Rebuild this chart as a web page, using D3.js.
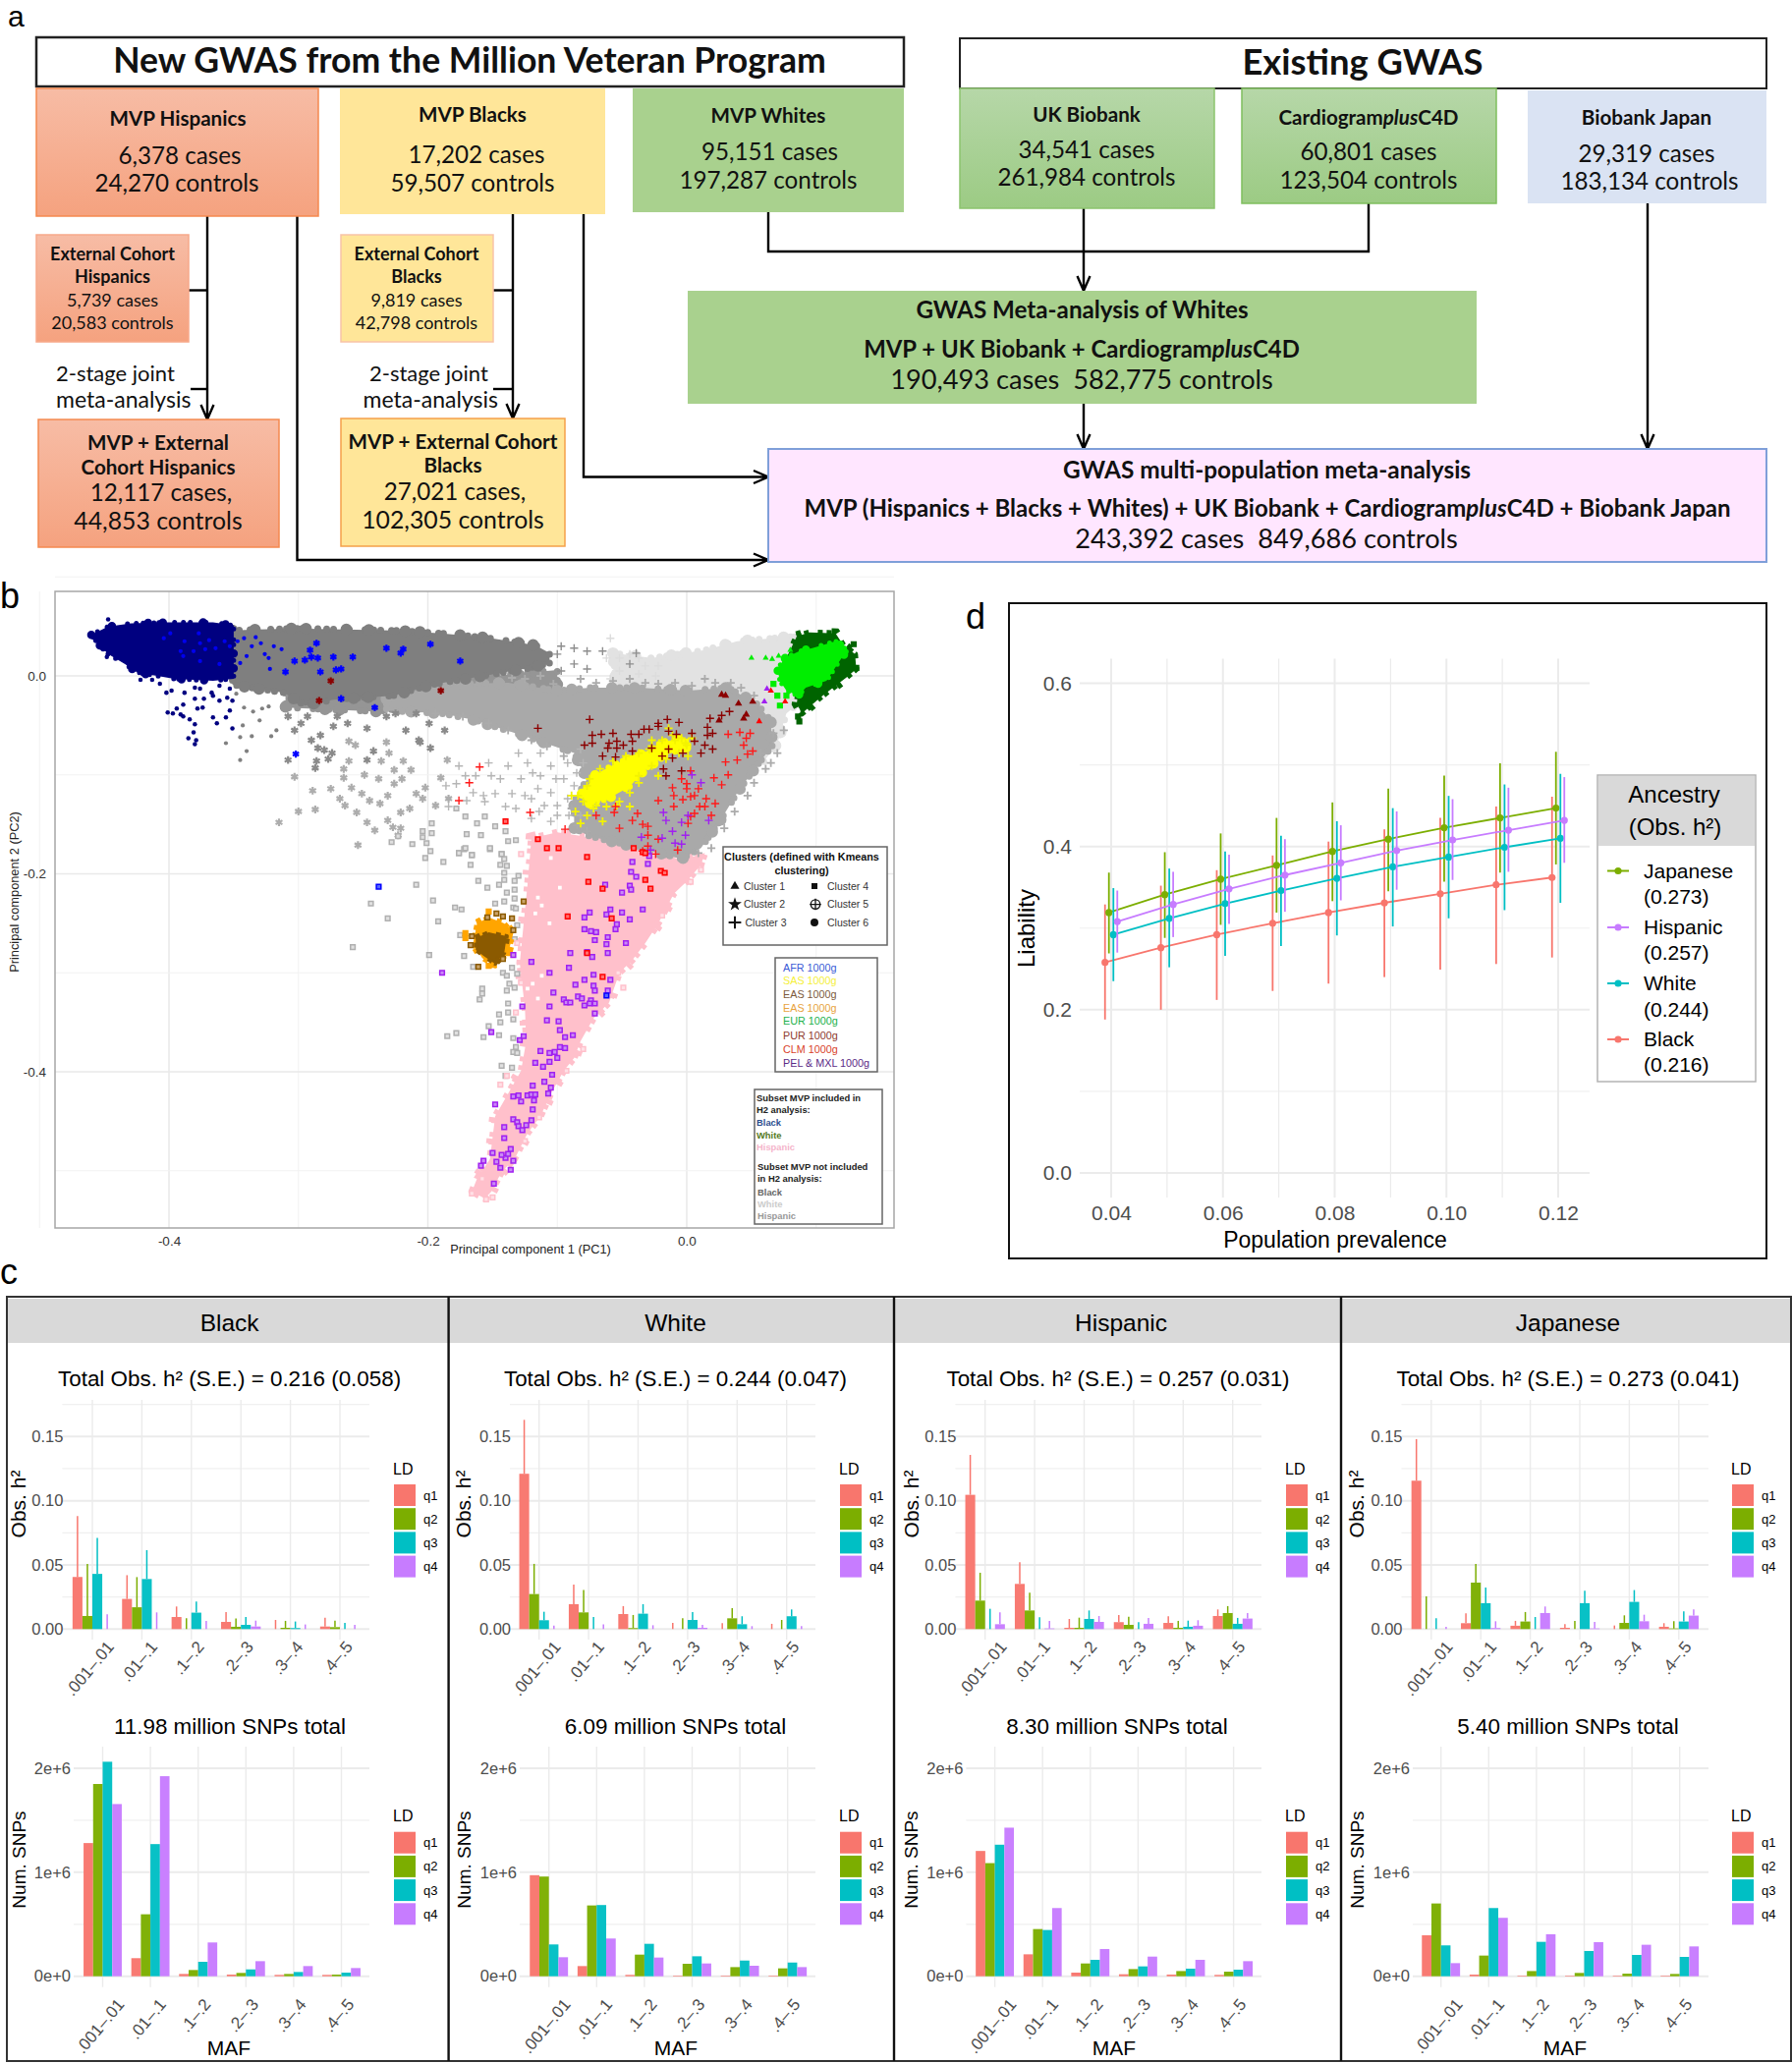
<!DOCTYPE html>
<html><head><meta charset="utf-8">
<script src="https://cdn.jsdelivr.net/npm/d3@7/dist/d3.min.js"></script>
<style>html,body{margin:0;padding:0;background:#fff}svg{display:block}text{font-family:"Liberation Sans",Arial,sans-serif}.fl text,text.fl{font-family:Lato,"Open Sans",sans-serif}</style>
</head><body><svg id="c" width="1824" height="2100" xmlns="http://www.w3.org/2000/svg"></svg>
<script>
/* ---------- DATA : panel a ---------- */
const cohortNames=["MVP Hispanics","MVP Blacks","MVP Whites","UK Biobank","Biobank Japan"];
const cohortCases=[6378,17202,95151,34541,60801,29319];
const cohortControls=[24270,59507,197287,261984,123504,183134];
const externalCases=[5739,9819];
const externalControls=[20583,42798];
const jointCases=[12117,27021];
const jointControls=[44853,102305];
const metaCases=[190493,243392];
const metaControls=[582775,849686];
/* ---------- DATA : panel b, PC1/PC2 ---------- */
const cloudLightGrey=[[-.057,.023],[-.027,.018],[.014,.026],[.039,.035],[.084,.040],[.086,-.028],[.077,-.038],[.070,-.068],[.057,-.091],[.039,-.065],[.019,-.03],[-.027,-.02],[-.054,-.015]];
const cloudMidGrey=[[-.232,-.022],[-.189,-.008],[-.138,-.007],[-.100,-.015],[-.075,-.012],[-.037,-.012],[.001,-.015],[.032,-.012],[.054,-.028],[.065,-.045],[.066,-.071],[.054,-.091],[.039,-.118],[.027,-.144],[.011,-.174],[-.004,-.185],[-.022,-.179],[-.052,-.169],[-.075,-.162],[-.087,-.154],[-.087,-.127],[-.077,-.104],[-.087,-.078],[-.125,-.061],[-.163,-.045],[-.189,-.038],[-.232,-.035]];
const cloudFringe=[[-.31,-.012],[-.19,-.005],[-.10,.006],[-.10,-.018],[-.19,-.028],[-.24,-.036],[-.31,-.032]];
const cloudDarkGrey=[[-.351,.046],[-.303,.048],[-.227,.046],[-.189,.043],[-.151,.038],[-.117,.031],[-.106,.023],[-.106,.013],[-.121,.008],[-.166,-.002],[-.197,-.009],[-.227,-.020],[-.273,-.024],[-.295,-.03],[-.311,-.017],[-.351,-.009]];
const cloudNavy=[[-.460,.0415],[-.447,.050],[-.429,.053],[-.402,.054],[-.366,.054],[-.350,.051],[-.350,-.003],[-.366,-.005],[-.396,-.003],[-.409,0],[-.424,.003],[-.434,.012],[-.447,.022],[-.453,.030]];
const cloudPink=[[-.120,-.164],[-.100,-.158],[-.075,-.163],[-.052,-.169],[-.022,-.179],[-.004,-.186],[.014,-.179],[.011,-.191],[-.001,-.209],[-.010,-.220],[-.022,-.250],[-.032,-.270],[-.042,-.287],[-.052,-.300],[-.060,-.330],[-.072,-.346],[-.082,-.369],[-.087,-.386],[-.095,-.399],[-.105,-.422],[-.113,-.445],[-.123,-.462],[-.133,-.488],[-.143,-.501],[-.151,-.521],[-.156,-.528],[-.166,-.521],[-.162,-.508],[-.152,-.488],[-.148,-.445],[-.138,-.422],[-.128,-.399],[-.124,-.369],[-.125,-.336],[-.129,-.290],[-.125,-.237],[-.123,-.211]];
const cloudOrange=[[-.162,-.250],[-.153,-.244],[-.141,-.250],[-.134,-.260],[-.138,-.280],[-.148,-.293],[-.158,-.285],[-.165,-.270]];
const cloudBrown=[[-.163,-.265],[-.153,-.259],[-.139,-.263],[-.141,-.280],[-.148,-.291],[-.157,-.283],[-.163,-.277]];
const cloudDarkGreen=[[.085,.040],[.095,.044],[.115,.043],[.121,.031],[.130,.022],[.131,.007],[.123,-.002],[.113,-.012],[.103,-.022],[.089,-.038],[.085,-.028],[.087,-.008],[.077,.018]];
const cloudGreen=[[.076,.018],[.087,.025],[.097,.028],[.115,.035],[.124,.026],[.118,.015],[.108,-.005],[.092,-.012],[.086,-.020],[.077,-.015],[.072,-.005],[.070,.007]];
const cloudYellow=[[-.081,-.119],[-.070,-.099],[-.054,-.088],[-.036,-.080],[-.018,-.066],[.002,-.063],[.001,-.072],[-.014,-.079],[-.032,-.094],[-.044,-.112],[-.062,-.125],[-.075,-.129]];
const navyPoints=[[-.447,.057],[-.460,.041],[-.457,.036],[-.452,.028],[-.448,.019],[-.423,.003],[-.422,-.004],[-.413,-.004],[-.407,-.008],[-.402,-.017],[-.398,-.015],[-.388,-.017],[-.380,-.012],[-.376,-.013],[-.367,-.017],[-.361,-.010],[-.353,-.013],[-.380,-.023],[-.373,-.023],[-.366,-.020],[-.361,-.025],[-.355,-.022],[-.351,-.025],[-.389,-.029],[-.394,-.033],[-.401,-.037],[-.397,-.038],[-.391,-.039],[-.389,-.041],[-.384,-.044],[-.380,-.049],[-.378,-.033],[-.374,-.032],[-.366,-.042],[-.363,-.048],[-.356,-.042],[-.353,-.035],[-.351,-.053],[-.381,-.057],[-.385,-.063],[-.379,-.065],[-.380,-.069]];
const afrDots=[[-.404,.038],[-.399,.043],[-.391,.025],[-.388,.035],[-.381,.025],[-.377,.043],[-.376,.033],[-.372,.027],[-.369,.036],[-.364,.028],[-.357,.035],[-.353,.030],[-.361,.012],[-.376,.015],[-.389,.020],[-.347,.035],[-.342,.038],[-.336,.030],[-.333,.039],[-.329,.033],[-.326,.022],[-.323,.018],[-.322,.007],[-.340,.020],[-.345,.013],[-.319,.030],[-.313,.027]];
const afrStars=[[-.303,.015],[-.295,.016],[-.291,.026],[-.286,.033],[-.290,.019],[-.285,.018],[-.273,.019],[-.258,.019],[-.232,.028],[-.221,.023],[-.219,.027],[-.198,.032],[-.310,.004],[-.283,.004],[-.271,.006],[-.267,.007],[-.267,-.023],[-.241,-.032],[-.302,-.079],[-.175,.015]];
const afrSquares=[[-.238,-.213],[-.062,-.323]];
const purStars=[[-.275,-.005],[-.284,-.025],[-.190,-.015]];
const greySmall=[[-.348,-.018],[-.342,-.032],[-.335,-.036],[-.328,-.033],[-.323,-.031],[-.343,-.050],[-.336,-.061],[-.345,-.062],[-.321,-.061],[-.340,-.076],[-.345,-.085],[-.356,-.068],[-.330,-.045],[-.317,-.055]];
const greyStarsDark=[[-.308,-.085],[-.286,-.086],[-.287,-.093],[-.277,-.084],[-.274,-.078],[-.283,-.060],[-.290,-.065],[-.285,-.073],[-.280,-.075],[-.298,-.048],[-.303,-.055],[-.308,-.041],[-.293,-.041],[-.273,-.051],[-.262,-.048],[-.247,-.053],[-.232,-.041],[-.217,-.055],[-.207,-.065],[-.199,-.048],[-.187,-.055],[-.270,-.041],[-.225,-.038],[-.209,-.038],[-.242,-.076],[-.206,-.067],[-.198,-.073],[-.247,-.085]];
const greyStarsLight=[[-.303,-.102],[-.289,-.116],[-.275,-.114],[-.300,-.137],[-.287,-.135],[-.315,-.148],[-.268,-.124],[-.264,-.131],[-.255,-.138],[-.247,-.148],[-.241,-.156],[-.227,-.153],[-.221,-.154],[-.254,-.171],[-.223,-.161],[-.231,-.146],[-.237,-.129],[-.251,-.119],[-.259,-.113],[-.265,-.103],[-.265,-.094],[-.261,-.086],[-.256,-.070],[-.261,-.066],[-.232,-.067],[-.230,-.078],[-.219,-.086],[-.236,-.086],[-.226,-.095],[-.213,-.095],[-.249,-.100],[-.238,-.104],[-.226,-.109],[-.220,-.104],[-.209,-.119],[-.202,-.113],[-.204,-.124],[-.221,-.138],[-.214,-.134],[-.231,-.121],[-.245,-.126],[-.194,-.131],[-.190,-.103],[-.185,-.085],[-.184,-.124]];
const greyPlus=[[-.176,-.091],[-.163,-.101],[-.153,-.088],[-.144,-.104],[-.130,-.078],[-.123,-.088],[-.113,-.078],[-.105,-.091],[-.092,-.088],[-.082,-.074],[-.186,-.111],[-.178,-.109],[-.165,-.118],[-.157,-.121],[-.148,-.119],[-.135,-.119],[-.125,-.121],[-.115,-.114],[-.105,-.118],[-.101,-.104],[-.110,-.131],[-.100,-.141],[-.120,-.124],[-.140,-.132],[-.132,-.134],[-.156,-.127],[-.170,-.126],[-.184,-.132],[-.092,-.124],[-.087,-.111],[-.095,-.104],[-.119,-.098],[-.138,-.091],[-.151,-.101],[-.171,-.101],[-.128,-.104],[-.113,-.101],[-.120,-.144],[-.105,-.147],[-.114,-.137],[-.085,-.098],[-.080,-.088],[-.091,-.141],[-.100,-.131],[-.082,-.141]];
const greyPlusDark=[[-.097,.030],[-.087,.028],[-.077,.025],[-.065,.025],[-.039,.023],[-.044,.012],[-.077,.007],[-.087,.012],[-.097,.005],[-.100,.022]];
const midGreyEdgePlus=[[-.135,-.002],[-.125,-.003],[-.113,0],[-.103,-.008],[-.082,-.003],[-.070,-.007],[-.057,-.005],[-.044,-.003],[-.032,-.007],[-.022,-.008],[-.009,-.007],[.004,-.010],[.014,-.003],[.022,-.007],[.034,-.007],[.042,-.012],[.052,-.020],[.067,-.058],[.070,-.078],[.061,-.094],[.052,-.108],[.047,-.121],[.037,-.137],[.029,-.154],[.019,-.174],[.009,-.179],[.065,-.088],[.057,-.078],[.075,-.055],[-.120,-.065],[-.108,-.071],[-.095,-.081],[-.138,-.055],[-.153,-.048],[-.173,-.041],[-.194,-.038],[-.089,-.134],[-.085,-.151],[-.077,-.157]];
const lightPlus=[[-.062,.018],[-.052,.018],[-.044,.022],[-.037,.018],[-.032,.010],[-.022,.010],[-.052,.005],[-.037,.002],[-.024,0],[-.059,-.003],[-.059,.038]];
const greySquares=[[-.198,-.177],[-.202,-.184],[-.188,-.188],[-.176,-.179],[-.172,-.175],[-.166,-.181],[-.167,-.191],[-.152,-.175],[-.143,-.180],[-.141,-.185],[-.144,-.191],[-.139,-.192],[-.141,-.199],[-.141,-.206],[-.130,-.202],[-.133,-.207],[-.133,-.216],[-.161,-.207],[-.154,-.214],[-.145,-.211],[-.209,-.211],[-.196,-.227],[-.179,-.234],[-.174,-.236],[-.192,-.248],[-.231,-.245],[-.244,-.230],[-.199,-.282],[-.172,-.283],[-.175,-.262],[-.165,-.294],[-.139,-.219],[-.133,-.225],[-.148,-.230],[-.141,-.228],[-.134,-.234],[-.132,-.235],[-.131,-.252],[-.133,-.266],[-.142,-.300],[-.135,-.295],[-.139,-.303],[-.131,-.301],[-.137,-.311],[-.133,-.315],[-.139,-.318],[-.158,-.316],[-.158,-.321],[-.160,-.327],[-.138,-.331],[-.145,-.342],[-.138,-.340],[-.134,-.347],[-.144,-.350],[-.153,-.354],[-.145,-.363],[-.157,-.365],[-.185,-.364],[-.178,-.361],[-.134,-.366],[-.132,-.375],[-.134,-.380],[-.131,-.381],[-.143,-.394],[-.135,-.396],[-.140,-.404],[-.178,-.134],[-.171,-.142],[-.162,-.149],[-.156,-.142],[-.148,-.152],[-.170,-.160],[-.159,-.161],[-.140,-.157],[-.138,-.167],[-.132,-.166],[-.152,-.174],[-.176,-.179],[-.171,-.174],[-.166,-.181],[-.143,-.180],[-.197,-.149],[-.204,-.157],[-.197,-.159],[-.204,-.163],[-.212,-.170],[-.201,-.169],[-.223,-.162],[-.228,-.168],[-.258,-.274]];
const purpleSquares=[[-.189,-.300],[-.134,-.282],[-.120,-.289],[-.151,-.360],[-.129,-.368],[-.126,-.364],[-.127,-.334],[-.106,-.334],[-.108,-.348],[-.099,-.349],[-.098,-.358],[-.094,-.365],[-.088,-.363],[-.098,-.375],[-.094,-.376],[-.113,-.379],[-.106,-.381],[-.102,-.380],[-.100,-.386],[-.117,-.391],[-.111,-.395],[-.106,-.390],[-.104,-.403],[-.110,-.410],[-.119,-.414],[-.105,-.416],[-.107,-.422],[-.134,-.425],[-.130,-.424],[-.123,-.424],[-.120,-.423],[-.117,-.423],[-.128,-.430],[-.118,-.429],[-.119,-.438],[-.148,-.433],[-.134,-.448],[-.131,-.451],[-.130,-.455],[-.127,-.459],[-.124,-.454],[-.120,-.449],[-.141,-.456],[-.141,-.467],[-.150,-.482],[-.157,-.490],[-.159,-.495],[-.147,-.491],[-.144,-.497],[-.136,-.499],[-.134,-.490],[-.140,-.487],[-.138,-.483],[-.136,-.478],[-.143,-.484],[-.149,-.513],[-.090,-.280],[-.077,-.279],[-.073,-.284],[-.061,-.280],[-.091,-.295],[-.106,-.300],[-.079,-.307],[-.072,-.302],[-.059,-.307],[-.086,-.312],[-.103,-.320],[-.072,-.313],[-.071,-.318],[-.061,-.318],[-.095,-.327],[-.093,-.330],[-.090,-.330],[-.084,-.324],[-.081,-.326],[-.074,-.328],[-.075,-.331],[-.071,-.331],[-.079,-.333],[-.071,-.341],[-.074,-.258],[-.070,-.259],[-.079,-.256],[-.071,-.267],[-.061,-.264],[-.062,-.271],[-.047,-.270],[-.055,-.256],[-.054,-.251],[-.044,-.246],[-.034,-.236],[-.050,-.239],[-.059,-.236],[-.062,-.241],[-.075,-.239],[-.079,-.244],[-.050,-.219],[-.044,-.212],[-.043,-.216],[-.039,-.203],[-.063,-.211],[-.042,-.188],[-.043,-.198],[-.030,-.190],[-.029,-.182]];
const redSquares=[[-.108,-.174],[-.099,-.174],[-.041,-.174],[-.077,-.183],[-.034,-.178],[-.032,-.179],[-.020,-.197],[-.017,-.199],[-.032,-.206],[-.028,-.215],[-.076,-.208],[-.065,-.215],[-.092,-.243],[-.058,-.245],[-.077,-.280],[-.065,-.304],[-.140,-.147],[-.115,-.165]];
const redPlus=[[-.160,-.092],[-.168,-.108],[-.176,-.126],[-.121,-.138],[-.094,-.155],[-.070,-.141],[-.055,-.132],[-.056,-.138],[-.038,-.139],[-.042,-.146],[-.052,-.154],[-.034,-.150],[-.030,-.152],[-.030,-.161],[-.022,-.165],[-.030,-.172],[-.024,-.180],[-.034,-.177],[-.007,-.176],[.019,-.141],[.006,-.139],[.003,-.142],[.001,-.149],[-.010,-.132],[-.022,-.126],[-.010,-.121],[-.003,-.125],[.003,-.122],[.006,-.121],[.009,-.114],[-.011,-.113],[0,-.114],[-.004,-.104],[0,-.109],[.003,-.096],[.015,-.124],[.010,-.132],[.014,-.132],[.022,-.129],[.027,-.110],[.032,-.100],[.021,-.103],[.030,-.087],[.039,-.085],[.047,-.079],[.044,-.070],[.051,-.076],[.046,-.063],[.049,-.058],[.041,-.057],[.032,-.059]];
const darkRedPlus=[[-.115,-.053],[-.075,-.044],[-.073,-.060],[-.066,-.059],[-.057,-.058],[-.079,-.070],[-.073,-.068],[-.060,-.068],[-.054,-.066],[-.049,-.070],[-.061,-.073],[-.054,-.073],[-.065,-.081],[-.055,-.082],[-.043,-.059],[-.037,-.059],[-.042,-.066],[-.033,-.054],[-.029,-.054],[-.022,-.048],[-.022,-.051],[-.015,-.044],[-.006,-.047],[-.014,-.056],[-.008,-.059],[.004,-.058],[.006,-.066],[.016,-.052],[.016,-.060],[.020,-.058],[.018,-.043],[.027,-.040],[.033,-.036],[.014,-.070],[.020,-.074],[.011,-.078],[-.003,-.078],[-.011,-.083],[-.018,-.094],[-.016,-.101],[-.042,-.076],[-.004,-.096],[-.027,-.073],[-.019,-.081],[-.014,-.074]];
const purplePlus=[[.004,-.100],[.011,-.108],[-.018,-.138],[-.016,-.146],[.001,-.141],[-.004,-.148],[.017,-.146],[-.011,-.157],[-.001,-.161],[-.035,-.163],[-.019,-.164],[-.009,-.169],[-.004,-.170],[-.028,-.176]];
const yellowPlus=[[-.089,-.121],[-.086,-.137],[-.082,-.149],[-.077,-.141],[-.070,-.131],[-.065,-.147],[-.044,-.132],[-.054,-.131],[-.022,-.101],[.001,-.081],[-.001,-.068],[-.027,-.065],[-.014,-.053],[-.009,-.065],[.004,-.063],[-.037,-.101],[-.029,-.074],[-.077,-.111],[-.075,-.104],[-.067,-.094],[-.057,-.086],[-.047,-.081],[-.037,-.078],[-.027,-.071],[-.019,-.065],[-.011,-.060],[-.004,-.063],[0,-.070],[-.006,-.078],[-.016,-.084],[-.027,-.091],[-.037,-.108],[-.044,-.118],[-.052,-.127],[-.062,-.132],[-.072,-.134],[-.080,-.127],[-.084,-.121]];
const darkRedTriangles=[[.027,-.019],[.030,-.020],[.040,-.028],[.051,-.026],[.046,-.039],[.044,-.043],[.025,-.045]];
const redTriangles=[[.065,-.015],[.076,-.026],[.056,-.046]];
const purpleTriangles=[[.062,-.013],[.060,-.026]];
const greenTriangles=[[.050,.018],[.061,.018],[.066,.017],[.071,.020],[.080,.026]];
const greenSquares=[[.067,-.008],[.070,-.020],[.077,-.020],[.072,-.030]];
const darkGreenSquares=[[.087,-.046],[.086,-.041],[.129,.032],[.131,.008]];
const orangeSquares=[[-.171,-.260],[-.171,-.265],[-.153,-.293],[-.149,-.292],[-.153,-.238],[-.138,-.280]];
const brownSquares=[[-.126,-.228],[-.147,-.240],[-.154,-.244],[-.142,-.243],[-.135,-.245],[-.134,-.257],[-.166,-.263],[-.167,-.272],[-.161,-.294],[-.142,-.286]];
const pinkSquares=[[-.166,-.523],[-.155,-.529],[-.150,-.527],[-.158,-.508],[-.125,-.470],[-.114,-.446],[-.080,-.377],[-.093,-.399],[-.049,-.315],[-.053,-.300],[-.019,-.242],[.011,-.196],[.003,-.208],[-.144,-.413],[-.139,-.404],[-.132,-.340],[-.128,-.310],[-.131,-.270],[-.128,-.180]];
const pinkGaps=[[-.105,-.184],[-.098,-.214],[-.115,-.224],[-.112,-.232],[-.106,-.250],[-.117,-.240],[-.112,-.303],[-.119,-.311],[-.115,-.326],[-.123,-.316]];
/* ---------- DATA : panel c ---------- */
const mafBins=[".001–.01",".01–.1",".1–.2",".2–.3",".3–.4",".4–.5"];
const ldBins=["q1","q2","q3","q4"];
const ancestries=["Black","White","Hispanic","Japanese"];
const h2Totals=["0.216 (0.058)","0.244 (0.047)","0.257 (0.031)","0.273 (0.041)"];
const snpTotals=["11.98","6.09","8.30","5.40"];
const h2Black=[[.0406,.0102,.043,0],[.0235,.017,.039,0],[.0094,0,.0128,0],[.0056,.0018,.0033,.002],[0,.001,.0008,0],[.002,.0015,0,0]];
const h2TopBlack=[[.088,.0508,.071,.0115],[.042,.0405,.0615,.013],[.0176,.0084,.0214,.0064],[.0133,.0082,.0094,.0066],[.0071,.0064,.0059,.0036],[.0089,.0066,.0048,.0033]];
const h2White=[[.121,.0273,.0069,0],[.0194,.013,0,0],[.0117,.0008,.012,0],[0,0,.0071,.001],[0,.0084,.0038,0],[0,0,.01,0]];
const h2TopWhite=[[.163,.0508,.0135,.0028],[.0347,.0304,.0094,.0036],[.0179,.011,.0194,.003],[.0048,.0084,.0133,.0033],[.0046,.0163,.01,.0023],[.0041,.0071,.0153,.0023]];
const h2Hispanic=[[.1046,.0222,0,.0038],[.0352,.0145,0,.0005],[.001,.001,.0079,.0056],[.0054,.0033,0,.0041],[.0048,.001,.0018,.0026],[.0102,.0125,.0041,.0082]];
const h2TopHispanic=[[.1357,.0439,.0158,.013],[.052,.0283,.0092,.0064],[.0079,.0089,.0145,.0102],[.011,.0097,.0054,.0087],[.01,.0064,.0066,.0069],[.0153,.0179,.0087,.0125]];
const h2Japanese=[[.1156,0,0,0],[.0046,.0362,.0202,.0008],[.0026,.0059,0,.0125],[.001,0,.0202,.0005],[0,.0048,.0212,.0061],[.0018,.0005,.0059,.0105]];
const h2TopJapanese=[[.148,.0255,.0084,.0018],[.0122,.0508,.0324,.0061],[.0064,.0133,.0094,.0176],[.0038,.0064,.0298,.0056],[.0028,.0107,.0304,.0112],[.0046,.0061,.0138,.0153]];
const snpBlack=[[1281000,1849000,2063000,1656000],[174000,596000,1271000,1924000],[22000,60000,139000,325000],[16000,32000,66000,145000],[13000,22000,41000,98000],[13000,16000,35000,79000]];
const snpWhite=[[972000,959000,306000,183000],[98000,681000,685000,363000],[13000,208000,312000,180000],[6000,120000,192000,123000],[6000,88000,151000,101000],[6000,76000,132000,88000]];
const snpHispanic=[[1205000,1088000,1265000,1429000],[211000,454000,445000,656000],[35000,123000,158000,262000],[19000,69000,95000,189000],[16000,50000,73000,158000],[13000,44000,63000,145000]];
const snpJapanese=[[394000,700000,297000,126000],[16000,199000,656000,562000],[6000,50000,331000,404000],[6000,32000,243000,328000],[6000,25000,205000,303000],[6000,22000,186000,287000]];
/* ---------- DATA : panel d ---------- */
const prevalence=[.04,.05,.06,.07,.08,.09,.10,.11,.12];
const prevalenceTicks=[.04,.06,.08,.10,.12];
const legendAncestry=["Japanese","Hispanic","White","Black"];
const legendH2=["(0.273)","(0.257)","(0.244)","(0.216)"];
const liabJapanese=[.319,.341,.360,.377,.394,.409,.423,.435,.447];
const liabJapaneseHi=[.368,.393,.416,.435,.454,.471,.487,.502,.516];
const liabJapaneseLo=[.269,.288,.304,.319,.333,.345,.357,.368,.378];
const liabHispanic=[.308,.329,.348,.365,.380,.395,.408,.420,.432];
const liabHispanicHi=[.346,.369,.390,.409,.426,.443,.458,.472,.485];
const liabHispanicLo=[.270,.289,.305,.320,.334,.347,.359,.369,.380];
const liabWhite=[.292,.312,.330,.346,.361,.375,.387,.399,.410];
const liabWhiteHi=[.349,.373,.394,.413,.431,.447,.462,.476,.489];
const liabWhiteLo=[.235,.252,.266,.278,.291,.302,.312,.322,.331];
const liabBlack=[.258,.276,.292,.306,.319,.331,.342,.353,.362];
const liabBlackHi=[.329,.352,.371,.389,.406,.421,.435,.449,.461];
const liabBlackLo=[.188,.200,.212,.223,.232,.240,.249,.256,.264];

/* ---------- palette ---------- */
const hue={q1:"#F8766D",q2:"#7CAE00",q3:"#00BFC4",q4:"#C77CFF"};
const svg=d3.select("#c");
const defs=svg.append("defs");
function grad(id,a,b){const g=defs.append("linearGradient").attr("id",id).attr("x1",0).attr("x2",0).attr("y1",0).attr("y2",1);
 g.append("stop").attr("offset",0).attr("stop-color",a);g.append("stop").attr("offset",1).attr("stop-color",b);}
grad("gOr","#f7bca5","#f5a27f");grad("gGr","#b6d7a8","#9ccb84");
const fmt=d3.format(",");

/* ---------- panel labels ---------- */
[["a",8,27,30],["b",0,619,36],["c",0,1307,36],["d",983,640,36]].forEach(([t,x,y,s])=>svg.append("text").attr("x",x).attr("y",y).attr("font-size",s).text(t));

/* ---------- panel a ---------- */
const A=svg.append("g").attr("class","fl");
function box(x0,y0,x1,y1,fill,stroke,sw){A.append("rect").attr("x",x0).attr("y",y0).attr("width",x1-x0).attr("height",y1-y0).attr("fill",fill).attr("stroke",stroke||"none").attr("stroke-width",sw||1.5);}
function T(x,y,s,size,w,extra){const t=A.append("text").attr("x",x).attr("y",y).attr("dy",".35em").attr("text-anchor",(extra&&extra.anchor)||"middle").attr("font-size",size).attr("font-weight",w||400).attr("fill","#111");
 String(s).split("|").forEach((p,i)=>t.append("tspan").attr("font-style",i%2?"italic":"normal").text(p));return t;}
function line(pts,arrow){const p=d3.path();p.moveTo(...pts[0]);pts.slice(1).forEach(q=>p.lineTo(...q));
 if(arrow){const e=pts[pts.length-1],s=pts[pts.length-2],dx=Math.sign(e[0]-s[0]),dy=Math.sign(e[1]-s[1]),L=15,W=6.5;
  p.moveTo(e[0]-dx*L-dy*W,e[1]-dy*L-dx*W);p.lineTo(e[0],e[1]);p.lineTo(e[0]-dx*L+dy*W,e[1]-dy*L+dx*W);}
 A.append("path").attr("d",p.toString()).attr("fill","none").attr("stroke","#000").attr("stroke-width",2.4);}
const sMain=24.2,sTitle=20.6;
/* connectors */
line([[211,220],[211,427]],1);line([[192,295.5],[211,295.5]]);line([[194,396],[211,396]]);
line([[302.5,220],[302.5,570],[782,570]],1);
line([[522,218],[522,426]],1);line([[502,295.5],[522,295.5]]);line([[502,396],[522,396]]);
line([[594,218],[594,485.5],[782,485.5]],1);
line([[782,216],[782,256],[1393,256],[1393,207]]);
line([[1103,212],[1103,296]],1);line([[1103,411],[1103,457]],1);line([[1677,207],[1677,457]],1);
/* header boxes */
box(37,38,920,88,"#fff","#222",2.5);T(478,62,"New GWAS from the Million Veteran Program",35.6,700);
box(977,39,1798,90,"#fff","#222",2);T(1387,63,"Existing GWAS",36.4,700);
/* source cohorts */
function cohort(i,r,fill,stroke,tx,ty,name){box(r[0],r[1],r[2],r[3],fill,stroke);T(tx[0],ty[0],name,sTitle,700);
 T(tx[1],ty[1],fmt(cohortCases[i])+" cases",sMain);T(tx[2],ty[2],fmt(cohortControls[i])+" controls",sMain);}
cohort(0,[37,90,324,220],"url(#gOr)","#f5894f",[181,183,180],[121,158.5,187],cohortNames[0]);
cohort(1,[346,90,616,218],"#ffe699",null,[481,485,481],[117,158,187],cohortNames[1]);
cohort(2,[644,90,920,216],"#a9d18e",null,[782,783.5,782],[117.5,155,184],cohortNames[2]);
cohort(3,[977,90,1236,212],"url(#gGr)","#8cc46e",[1106,1106,1106],[117,153,181],cohortNames[3]);
cohort(4,[1264,90,1523,207],"url(#gGr)","#7fbf5e",[1393,1393,1393],[120,155,184],"Cardiogram|plus|C4D");
cohort(5,[1555,92,1798,207],"#dae3f3",null,[1676,1676,1679],[120,157,185],cohortNames[4]);
/* external cohorts */
function ext(i,x0,x1,cx,fill,stroke,who){box(x0,239,x1,348,fill,stroke);
 T(cx,258.5,"External Cohort",18,700);T(cx,282,who,18,700);T(cx,306,fmt(externalCases[i])+" cases",18);T(cx,329,fmt(externalControls[i])+" controls",18);}
ext(0,37,192,114.5,"url(#gOr)","#f7a98a","Hispanics");ext(1,347,502,424,"#ffe699","#f8c3a8","Blacks");
T(57,380,"2-stage joint",22,400,{anchor:"start"});T(57,407,"meta-analysis",23,400,{anchor:"start"});
T(376,380,"2-stage joint",22,400,{anchor:"start"});T(369.5,407,"meta-analysis",23,400,{anchor:"start"});
/* joint */
box(39,427,284,557,"url(#gOr)","#f5894f");T(161,451,"MVP + External",sTitle,700);T(161,476,"Cohort Hispanics",sTitle,700);
T(164,502,fmt(jointCases[0])+" cases,",sMain);T(161,530,fmt(jointControls[0])+" controls",24.8);
box(347,426,575,556,"#ffe699","#f5a04a");T(461,450,"MVP + External Cohort",sTitle,700);T(461,474,"Blacks",sTitle,700);
T(463,501,fmt(jointCases[1])+" cases,",sMain);T(461,529,fmt(jointControls[1])+" controls",24.8);
/* meta */
box(700,296,1503,411,"#a9d18e");T(1101.5,316,"GWAS Meta-analysis of Whites",24.2,700);
T(1101,356,"MVP + UK Biobank + Cardiogram|plus|C4D",23.9,700);
T(1101,386,fmt(metaCases[0])+" cases  "+fmt(metaControls[0])+" controls",27.2).style("white-space","pre");
box(782,457,1798,572,"#ffe6ff","#7f9fd9",2);T(1289.5,478,"GWAS multi-population meta-analysis",24.4,700);
T(1290,517.5,"MVP (Hispanics + Blacks + Whites) + UK Biobank + Cardiogram|plus|C4D + Biobank Japan",24,700);
T(1289,548,fmt(metaCases[1])+" cases  "+fmt(metaControls[1])+" controls",27.2).style("white-space","pre");

/* ---------- panel b ---------- */
const B=svg.append("g");
const pcX=d3.scaleLinear().domain([-.4,0]).range([172,699]);
const pcY=d3.scaleLinear().domain([0,-.4]).range([688,1091]);
[-.5,-.3,-.1,.1].forEach(v=>B.append("line").attr("x1",pcX(v)).attr("x2",pcX(v)).attr("y1",602).attr("y2",1250).attr("stroke","#f2f2f2").attr("stroke-width",1));
[-.4,-.2,0].forEach(v=>B.append("line").attr("x1",pcX(v)).attr("x2",pcX(v)).attr("y1",602).attr("y2",1250).attr("stroke","#e9e9e9").attr("stroke-width",1.5));
[.1,-.1,-.3,-.5].forEach(v=>B.append("line").attr("y1",pcY(v)).attr("y2",pcY(v)).attr("x1",56).attr("x2",910).attr("stroke","#f2f2f2").attr("stroke-width",1));
[0,-.2,-.4].forEach(v=>B.append("line").attr("y1",pcY(v)).attr("y2",pcY(v)).attr("x1",56).attr("x2",910).attr("stroke","#e9e9e9").attr("stroke-width",1.5));
const pf=d=>d.toFixed(1);
const axBx=B.append("g").attr("transform","translate(0,1250)").call(d3.axisBottom(pcX).tickValues([-.4,-.2,0]).tickFormat(pf).tickSize(0).tickPadding(8));
const axBy=B.append("g").attr("transform","translate(56,0)").call(d3.axisLeft(pcY).tickValues([0,-.2,-.4]).tickFormat(pf).tickSize(0).tickPadding(9));
[axBx,axBy].forEach(a=>{a.select(".domain").remove();a.selectAll("text").attr("font-size",13.5).attr("fill","#333").style("font-family",'"Liberation Sans"');});
B.append("rect").attr("x",56).attr("y",602).attr("width",854).attr("height",648).attr("fill","none").attr("stroke","#a6a6a6").attr("stroke-width",1.5);
B.append("text").attr("x",540).attr("y",1276).attr("text-anchor","middle").attr("font-size",12.8).attr("fill","#222").text("Principal component 1 (PC1)");
B.append("text").attr("transform","translate(19,908) rotate(-90)").attr("text-anchor","middle").attr("font-size",12.8).attr("fill","#222").text("Principal component 2 (PC2)");
const cloud=d3.line().x(d=>pcX(d[0])).y(d=>pcY(d[1])).curve(d3.curveLinearClosed);
function drawCloud(pts,fill,sw,square){
 const p=B.append("path").attr("d",cloud(pts)).attr("fill",fill).attr("stroke",fill).attr("stroke-width",sw).attr("stroke-linejoin","round");
 if(square)p.attr("stroke-dasharray","5 3 5 9 5 4 5 14 5 6").attr("stroke-linecap","butt");else p.attr("stroke-dasharray","0 7 0 11 0 5 0 16 0 9").attr("stroke-linecap","round");
 const q=B.append("path").attr("d",cloud(pts)).attr("fill","none").attr("stroke",fill).attr("stroke-width",sw*1.7);
 if(square)q.attr("stroke-dasharray","5 31 5 17 5 43").attr("stroke-linecap","butt");else q.attr("stroke-dasharray","0 23 0 37 0 15 0 41").attr("stroke-linecap","round");
}
const sym=(type,size)=>d3.symbol().type(type).size(size);
const tPlus=d3.symbolPlus||d3.symbolCross;
const tAst=d3.symbolAsterisk;
function pts(data,type,size,fill,stroke,sw){B.append("g").selectAll("path").data(data).join("path").attr("transform",d=>`translate(${pcX(d[0])},${pcY(d[1])})`).attr("d",sym(type,size)()).attr("fill",fill||"none").attr("stroke",stroke||"none").attr("stroke-width",sw||0);}
function plus(data,color,sw){pts(data,tPlus,24,"none",color,sw||1.4);}
function squares(data,stroke,fill){pts(data,d3.symbolSquare,22,fill,stroke,1.5);}
function star(data,color,size){if(tAst)pts(data,tAst,size||44,"none",color,2.2);else pts(data,d3.symbolStar,size||26,color,color,.8);}
drawCloud(cloudLightGrey,"#e2e2e2",7);
plus(lightPlus,"#dcdcdc");
drawCloud(cloudPink,"#ffc0cb",7,true);
pts(pinkGaps,d3.symbolSquare,14,"#fff");
drawCloud(cloudFringe,"#959595",7);
drawCloud(cloudMidGrey,"#a9a9a9",7);
plus(midGreyEdgePlus,"#ababab",1.8);
drawCloud(cloudDarkGrey,"#7f7f7f",7);
drawCloud(cloudNavy,"#000080",5);
pts(navyPoints,d3.symbolCircle,16,"#000080");
pts(greySmall,d3.symbolCircle,14,"#808080");
star(greyStarsDark,"#8a8a8a");star(greyStarsLight,"#adadad");
plus(greyPlus,"#b5b5b5");plus(greyPlusDark,"#8e8e8e");
squares(greySquares,"#b0b0b0","#e0e0e0");squares(pinkSquares,"#ffc0cb","#ffe0e6");
drawCloud(cloudOrange,"#ffa500",5,true);squares(orangeSquares,"#ffa500","#ffa500");
drawCloud(cloudBrown,"#8b5a00",4,true);squares(brownSquares,"#8b5a00","#c9a36a");
drawCloud(cloudDarkGreen,"#006400",6,true);squares(darkGreenSquares,"#006400","#006400");
drawCloud(cloudGreen,"#00ee00",5);squares(greenSquares,"#00ee00","#00ee00");
pts(greenTriangles,d3.symbolTriangle,16,"#00ee00");
drawCloud(cloudYellow,"#ffff00",6);plus(yellowPlus,"#f3f300",1.8);
plus(darkRedPlus,"#8b0000");plus(redPlus,"#ff1a1a");plus(purplePlus,"#a020f0");
squares(purpleSquares,"#a020f0","#c98af5");squares(redSquares,"#ff0000","#ff7070");
pts(afrDots,d3.symbolCircle,14,"#0000ee");star(afrStars,"#0000ff",36);squares(afrSquares,"#0000ff","#5566ff");
star(purStars,"#8b0000",36);
pts(darkRedTriangles,d3.symbolTriangle,24,"#8b0000");pts(redTriangles,d3.symbolTriangle,18,"#ff0000");pts(purpleTriangles,d3.symbolTriangle,18,"#a020f0");
/* legends of b */
function lb(x0,y0,x1,y1){B.append("rect").attr("x",x0).attr("y",y0).attr("width",x1-x0).attr("height",y1-y0).attr("fill","#fff").attr("stroke","#666").attr("stroke-width",1.5);}
function tb(x,y,s,size,fill,w,anc){B.append("text").attr("x",x).attr("y",y).attr("dy",".35em").attr("font-size",size).attr("fill",fill||"#222").attr("font-weight",w||400).attr("text-anchor",anc||"start").text(s);}
lb(736,862,903,962);
tb(816,872,"Clusters (defined with Kmeans",10.8,"#111",700,"middle");tb(816,886,"clustering)",10.8,"#111",700,"middle");
[["Cluster 1",757,902],["Cluster 2",757,920.6],["Cluster 3",758.5,939],["Cluster 4",842,902],["Cluster 5",842,920.6],["Cluster 6",842,939]].forEach(r=>tb(r[1],r[2],r[0],10.5,"#333"));
const LS=(t,x,y,size,f,s,sw)=>B.append("path").attr("transform",`translate(${x},${y})`).attr("d",sym(t,size)()).attr("fill",f).attr("stroke",s||"none").attr("stroke-width",sw||0);
LS(d3.symbolTriangle,748,902,36,"#111");LS(d3.symbolStar,748,920.6,60,"#111");LS(tPlus,748,939,55,"none","#111",2);
LS(d3.symbolSquare,829,902,36,"#111");LS(d3.symbolCircle,830,920.6,70,"none","#111",1.3);LS(tPlus,830,920.6,45,"none","#111",1.3);LS(d3.symbolCircle,829,939,50,"#111");
lb(789,975,893,1091);
[["AFR 1000g","#3b5bd6",985],["SAS 1000g","#f5f03c",998],["EAS 1000g","#7c5a3c",1012],["EAS 1000g","#e8a33d",1026],["EUR 1000g","#22b14c",1039],["PUR 1000g","#8e3a2e",1054],["CLM 1000g","#d9432b",1068],["PEL & MXL 1000g","#5b2a86",1082]].forEach(r=>tb(797,r[2],r[0],10.8,r[1]));
lb(768,1109,898,1246);
[["Subset MVP included in","#222",1118,770],["H2 analysis:","#222",1130,770],["Black","#2f4f8f",1143,770],["White","#557a1e",1156,770],["Hispanic","#f5b5cb",1168,770],["Subset MVP not included","#222",1188,771],["in H2 analysis:","#222",1199.5,771],["Black","#666",1214,771],["White","#ccc",1226,771],["Hispanic","#999",1238,771]].forEach(r=>tb(r[3],r[2],r[0],9.4,r[1],700));

/* ---------- panel d ---------- */
const D=svg.append("g");
D.append("rect").attr("x",1027).attr("y",614).attr("width",771).attr("height",667).attr("fill","#fff").attr("stroke","#111").attr("stroke-width",2);
const dX=d3.scaleLinear().domain([.04,.12]).range([1131,1586]);
const dY=d3.scaleLinear().domain([0,.6]).range([1194,695.5]);
[.1,.3,.5].forEach(v=>D.append("line").attr("x1",1099).attr("x2",1618).attr("y1",dY(v)).attr("y2",dY(v)).attr("stroke","#f0f0f0").attr("stroke-width",1.2));
[0,.2,.4,.6].forEach(v=>D.append("line").attr("x1",1099).attr("x2",1618).attr("y1",dY(v)).attr("y2",dY(v)).attr("stroke","#ebebeb").attr("stroke-width",2));
prevalence.forEach((v,i)=>D.append("line").attr("x1",dX(v)).attr("x2",dX(v)).attr("y1",670.5).attr("y2",1219).attr("stroke","#ebebeb").attr("stroke-width",i%2?1.2:2));
const axD1=D.append("g").attr("transform","translate(0,1219)").call(d3.axisBottom(dX).tickValues(prevalenceTicks).tickFormat(d3.format(".2f")).tickSize(0).tickPadding(8));
const axD2=D.append("g").attr("transform","translate(1093,0)").call(d3.axisLeft(dY).tickValues([0,.2,.4,.6]).tickFormat(d3.format(".1f")).tickSize(0).tickPadding(2));
[axD1,axD2].forEach(a=>{a.select(".domain").remove();a.selectAll("text").attr("font-size",21).attr("fill","#4d4d4d").style("font-family",'"Liberation Sans"');});
const dSeries=[["Black",liabBlack,liabBlackHi,liabBlackLo,hue.q1,-.0011],["Japanese",liabJapanese,liabJapaneseHi,liabJapaneseLo,hue.q2,-.0004],["White",liabWhite,liabWhiteHi,liabWhiteLo,hue.q3,.0004],["Hispanic",liabHispanic,liabHispanicHi,liabHispanicLo,hue.q4,.0011]];
dSeries.forEach(([n,v,hi,lo,col,off])=>{
 const g=D.append("g");
 g.append("path").attr("d",d3.line().x((d,i)=>dX(prevalence[i]+off)).y(d=>dY(d))(v)).attr("fill","none").attr("stroke",col).attr("stroke-width",1.8);
 g.selectAll("line").data(v).join("line").attr("x1",(d,i)=>dX(prevalence[i]+off)).attr("x2",(d,i)=>dX(prevalence[i]+off)).attr("y1",(d,i)=>dY(hi[i])).attr("y2",(d,i)=>dY(lo[i])).attr("stroke",col).attr("stroke-width",1.8);
 g.selectAll("circle").data(v).join("circle").attr("cx",(d,i)=>dX(prevalence[i]+off)).attr("cy",d=>dY(d)).attr("r",3.6).attr("fill",col);
});
D.append("text").attr("x",1359).attr("y",1270).attr("text-anchor","middle").attr("font-size",23).text("Population prevalence");
D.append("text").attr("transform","translate(1053,945) rotate(-90)").attr("text-anchor","middle").attr("font-size",24).text("Liability");
D.append("rect").attr("x",1626).attr("y",789).attr("width",161).attr("height",312).attr("fill","#fff").attr("stroke","#b3b3b3").attr("stroke-width",1.5);
D.append("rect").attr("x",1627).attr("y",790).attr("width",159).attr("height",71).attr("fill","#d9d9d9");
D.append("text").attr("x",1704).attr("y",809).attr("dy",".35em").attr("text-anchor","middle").attr("font-size",24).text("Ancestry");
D.append("text").attr("x",1705).attr("y",842).attr("dy",".35em").attr("text-anchor","middle").attr("font-size",24).text("(Obs. h²)");
const legCols={Japanese:hue.q2,Hispanic:hue.q4,White:hue.q3,Black:hue.q1};
[[886.5,912.5],[944,970],[1001,1028],[1058,1084]].forEach((ys,i)=>{
 const c=legCols[legendAncestry[i]];
 D.append("line").attr("x1",1636).attr("x2",1658).attr("y1",ys[0]).attr("y2",ys[0]).attr("stroke",c).attr("stroke-width",2);
 D.append("circle").attr("cx",1647).attr("cy",ys[0]).attr("r",3.6).attr("fill",c);
 D.append("text").attr("x",1673).attr("y",ys[0]).attr("dy",".35em").attr("font-size",21).text(legendAncestry[i]);
 D.append("text").attr("x",1673).attr("y",ys[1]).attr("dy",".35em").attr("font-size",21).text(legendH2[i]);
});

/* ---------- panel c ---------- */
const C=svg.append("g");
C.append("rect").attr("x",7).attr("y",1322).attr("width",1816).attr("height",45).attr("fill","#d9d9d9");
C.append("rect").attr("x",7).attr("y",1320).attr("width",1816).attr("height",778).attr("fill","none").attr("stroke","#333").attr("stroke-width",2);
[456.6,910,1365].forEach(x=>C.append("line").attr("x1",x).attr("x2",x).attr("y1",1320).attr("y2",2098).attr("stroke","#111").attr("stroke-width",2.4));
const facetL=[
 {strip:233.6,cx:233.6,cx2:234,maf:233,gL:63.4,gR:376,t0:94,gL2:75,t20:104.5,key:401,lab:19},
 {strip:687.5,cx:687.5,cx2:687.5,maf:688,gL:519,gR:830,t0:548.7,gL2:529,t20:558.7,key:855,lab:472},
 {strip:1141,cx:1138,cx2:1137,maf:1134,gL:972.4,gR:1284,t0:1002.7,gL2:983.4,t20:1012.6,key:1309,lab:927.5},
 {strip:1596,cx:1596,cx2:1596,maf:1593,gL:1426.5,gR:1739,t0:1456.8,gL2:1438,t20:1466.7,key:1763,lab:1381}];
const h2Data=[h2Black,h2White,h2Hispanic,h2Japanese],h2Tops=[h2TopBlack,h2TopWhite,h2TopHispanic,h2TopJapanese],snpData=[snpBlack,snpWhite,snpHispanic,snpJapanese];
function facet(f,vals,tops,opt){
 const step=opt.step,t0=opt.t0;
 const x0=d3.scaleBand().domain(mafBins).range([t0-step/2,t0+step*5.5]);
 const x1=d3.scaleBand().domain(ldBins).range([0,step*.8]);
 const y=d3.scaleLinear().domain(opt.dom).range(opt.range);
 const g=C.append("g");
 opt.minor.forEach(v=>g.append("line").attr("x1",opt.gL).attr("x2",f.gR).attr("y1",y(v)).attr("y2",y(v)).attr("stroke","#f0f0f0").attr("stroke-width",1.2));
 opt.major.forEach(v=>g.append("line").attr("x1",opt.gL).attr("x2",f.gR).attr("y1",y(v)).attr("y2",y(v)).attr("stroke","#ebebeb").attr("stroke-width",2));
 mafBins.forEach(c=>{const xx=x0(c)+x0.bandwidth()/2;g.append("line").attr("x1",xx).attr("x2",xx).attr("y1",opt.vTop).attr("y2",opt.vBot).attr("stroke","#ebebeb").attr("stroke-width",1.4);});
 const ax=g.append("g").attr("transform",`translate(${opt.gL+1},0)`).call(d3.axisLeft(y).tickValues(opt.major).tickFormat(opt.fmt).tickSize(0).tickPadding(opt.pad));
 ax.select(".domain").remove();ax.selectAll("text").attr("font-size",16.5).attr("fill","#4d4d4d").style("font-family",'"Liberation Sans"');
 const axx=g.append("g").attr("transform",`translate(0,${opt.vBot})`).call(d3.axisBottom(x0).tickSize(0));
 axx.select(".domain").remove();
 axx.selectAll("g.tick").attr("transform",null).each(function(c){
  const t=d3.select(this).select("text").attr("font-size",17).attr("fill","#4d4d4d").attr("x",null).attr("y",null).attr("dy",".35em").attr("text-anchor","middle").style("font-family",'"Liberation Sans"');
  const len=t.node().getComputedTextLength(),h=len*Math.sin(50*Math.PI/180)+6;
  t.attr("transform",`translate(${x0(c)+x0.bandwidth()/2-3},${opt.labelTop-opt.vBot+h/2}) rotate(-50)`);
 });
 mafBins.forEach((c,i)=>{
  const cx=x0(c)+x0.bandwidth()/2-step*.4;
  ldBins.forEach((q,j)=>{
   const bx=cx+x1(q),col=hue[q];
   if(vals[i][j]>0)g.append("rect").attr("x",bx).attr("y",y(vals[i][j])).attr("width",x1.bandwidth()).attr("height",y(0)-y(vals[i][j])).attr("fill",col).attr("fill-opacity",.97);
   if(tops)g.append("line").attr("x1",bx+x1.bandwidth()/2).attr("x2",bx+x1.bandwidth()/2).attr("y1",y(tops[i][j])).attr("y2",y(vals[i][j])).attr("stroke",col).attr("stroke-width",1.5);
  });
 });
 /* legend */
 g.append("text").attr("x",f.key-1).attr("y",opt.legY).attr("dy",".35em").attr("font-size",16).text("LD");
 ldBins.forEach((q,j)=>{
  const yy=opt.legY+16+j*24.2;
  g.append("rect").attr("x",f.key).attr("y",yy).attr("width",22).attr("height",22).attr("fill",hue[q]);
  g.append("text").attr("x",f.key+30).attr("y",yy+11).attr("dy",".35em").attr("font-size",13).text(q);
 });
}
ancestries.forEach((a,i)=>{
 const f=facetL[i];
 C.append("text").attr("x",f.strip).attr("y",1346).attr("dy",".35em").attr("text-anchor","middle").attr("font-size",24.5).text(a);
 C.append("text").attr("x",f.cx).attr("y",1403).attr("dy",".35em").attr("text-anchor","middle").attr("font-size",22.4).text("Total Obs. h² (S.E.) = "+h2Totals[i]);
 C.append("text").attr("x",f.cx2).attr("y",1757).attr("dy",".35em").attr("text-anchor","middle").attr("font-size",22.4).text(snpTotals[i]+" million SNPs total");
 C.append("text").attr("x",f.maf).attr("y",2085).attr("dy",".35em").attr("text-anchor","middle").attr("font-size",21).text("MAF");
 C.append("text").attr("transform",`translate(${f.lab},1531) rotate(-90)`).attr("dy",".35em").attr("text-anchor","middle").attr("font-size",21).text("Obs. h²");
 C.append("text").attr("transform",`translate(${f.lab},1893) rotate(-90)`).attr("dy",".35em").attr("text-anchor","middle").attr("font-size",19).text("Num. SNPs");
 facet(f,h2Data[i],h2Tops[i],{step:50.4,t0:f.t0,gL:f.gL,dom:[0,.15],range:[1658.3,1462.3],major:[0,.05,.10,.15],minor:[.025,.075,.125,.175],fmt:d3.format(".2f"),pad:0,vTop:1425,vBot:1669,labelTop:1670,legY:1495});
 facet(f,snpData[i],null,{step:48.6,t0:f.t20,gL:f.gL2,dom:[0,2e6],range:[2011.7,1800],major:[0,1e6,2e6],minor:[5e5,1.5e6],fmt:d=>(d/1e6)+"e"+(d?"+6":"+0"),pad:4,vTop:1778,vBot:2022.7,labelTop:2034,legY:1848.7});
});
</script></body></html>
